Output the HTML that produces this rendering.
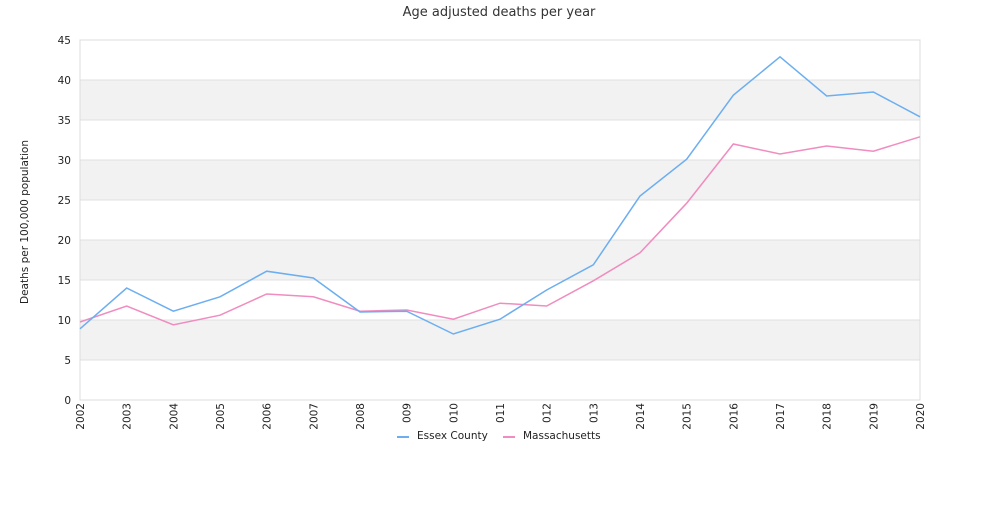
<!DOCTYPE html>
<html><head><meta charset="utf-8"><style>
body{margin:0;background:#fff;font-family:"Liberation Sans","DejaVu Sans",sans-serif}
svg text{font-family:"DejaVu Sans","Liberation Sans",sans-serif}
</style></head><body>
<svg id="chart" width="1000" height="500" xmlns="http://www.w3.org/2000/svg">
<text x="499" y="16" font-size="13" fill="#333" text-anchor="middle">Age adjusted deaths per year</text>
<g id="grid"></g><g id="axes"></g><g id="series"></g>
<text transform="translate(28,222) rotate(-90)" font-size="10.5" fill="#222" text-anchor="middle">Deaths per 100,000 population</text>
<g id="legend">
<rect x="385" y="424" width="230" height="26" fill="#fff"/>
<line x1="397" y1="437" x2="409" y2="437" stroke="#6caef0" stroke-width="2"/>
<text x="417" y="439" font-size="10.5" fill="#222">Essex County</text>
<line x1="503" y1="437" x2="515" y2="437" stroke="#f08cbf" stroke-width="2"/>
<text x="523" y="439" font-size="10.5" fill="#222">Massachusetts</text>
</g>
</svg>
<script>
const categories=["2002","2003","2004","2005","2006","2007","2008","2009","2010","2011","2012","2013","2014","2015","2016","2017","2018","2019","2020"];
const tickLabels=["2002","2003","2004","2005","2006","2007","2008","2009","2010","2011","2012","2013","2014","2015","2016","2017","2018","2019","2020"];
const essex=[8.9,14.0,11.1,12.9,16.1,15.25,11.0,11.1,8.25,10.1,13.75,16.9,25.5,30.1,38.1,42.9,38.0,38.5,35.4];
const mass=[9.75,11.75,9.4,10.6,13.25,12.9,11.1,11.25,10.1,12.1,11.75,14.9,18.4,24.6,32.0,30.75,31.75,31.1,32.9];
const yTicks=[0,5,10,15,20,25,30,35,40,45];
const NS="http://www.w3.org/2000/svg";
const L=80,R=920,T=40,B=400,YMAX=45;
const x=i=>L+i*(R-L)/(categories.length-1);
const y=v=>B-v*(B-T)/YMAX;
function mk(tag,attrs,parent){const e=document.createElementNS(NS,tag);for(const k in attrs)e.setAttribute(k,attrs[k]);document.getElementById(parent).appendChild(e);return e;}
for(let k=0;k<yTicks.length-1;k++){
  if(k%2===1){const b=mk('rect',{x:L,y:y(yTicks[k+1]),width:R-L,height:y(yTicks[k])-y(yTicks[k+1]),fill:'#f2f2f2'},'grid');
  
  }
}
yTicks.forEach(v=>{
  const l=mk('line',{x1:L,x2:R,y1:y(v),y2:y(v),stroke:'#e0e0e0'},'grid');
  
  
  const t=mk('text',{x:71,y:y(v)+4,'font-size':10.5,fill:'#222','text-anchor':'end'},'axes');
  t.textContent=v;
  
  
});
const fr=mk('rect',{x:L,y:T,width:R-L,height:B-T,fill:'none',stroke:'#dcdcdc'},'axes');


tickLabels.forEach((s,i)=>{
  const t=mk('text',{transform:`translate(${x(i)+4},${B+3}) rotate(-90)`,'font-size':10.5,fill:'#222','text-anchor':'end'},'axes');
  t.textContent=s;
  
  
});
function line(data,color,name){
  const p=mk('polyline',{points:data.map((v,i)=>x(i)+','+y(v)).join(' '),fill:'none',stroke:color,'stroke-width':1.5},'series');
  
  
}
line(mass,'#f08cbf','massachusetts-line');
line(essex,'#6caef0','essex-county-line');
document.getElementById('chart').appendChild(document.getElementById('legend'));
</script>
</body></html>
